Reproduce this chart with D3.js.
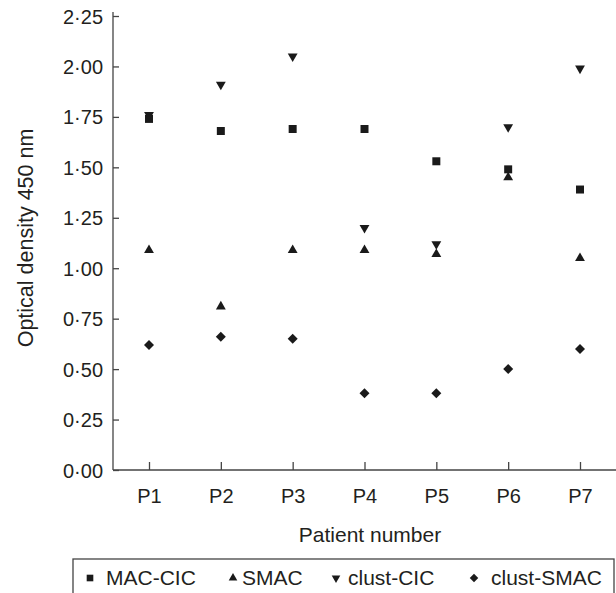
<!DOCTYPE html>
<html>
<head>
<meta charset="utf-8">
<script src="https://cdn.jsdelivr.net/npm/d3@7"></script>
<style>
  body { margin: 0; background: #fff; }
  text { font-family: "Liberation Sans", Arial, sans-serif; fill: #231f20; }
</style>
</head>
<body>
<svg id="chart" width="616" height="593"></svg>
<script>
const patients = ["P1", "P2", "P3", "P4", "P5", "P6", "P7"]
const macCic = [1.74, 1.68, 1.69, 1.69, 1.53, 1.49, 1.39]
const smac = [1.09, 0.81, 1.09, 1.09, 1.07, 1.45, 1.05]
const clustCic = [1.76, 1.91, 2.05, 1.20, 1.12, 1.70, 1.99]
const clustSmac = [0.62, 0.66, 0.65, 0.38, 0.38, 0.50, 0.60]
const yTicks = [0, 0.25, 0.5, 0.75, 1, 1.25, 1.5, 1.75, 2, 2.25]

const series = [
  { name: "MAC-CIC", values: macCic, shape: "square" },
  { name: "SMAC", values: smac, shape: "up" },
  { name: "clust-CIC", values: clustCic, shape: "down" },
  { name: "clust-SMAC", values: clustSmac, shape: "diamond" }
]

const svg = d3.select("#chart")
const plotL = 113, plotR = 616, plotT = 16, plotB = 470

const x = d3.scalePoint().domain(patients).range([149, 580])
const y = d3.scaleLinear().domain([0, 2.25]).range([plotB, plotT])

// marker paths, big for the plot and small for the legend
function marker(shape, big) {
  if (shape == "square") return d3.symbol(d3.symbolSquare, big ? 64 : 44)()
  if (shape == "diamond") return d3.symbol(d3.symbolSquare, big ? 50 : 36)()
  return d3.symbol(d3.symbolTriangle, big ? 42 : 32)()
}
function rot(shape) {
  if (shape == "down") return 180
  if (shape == "diamond") return 45
  return 0
}

// axes
const yAxis = svg.append("g").attr("transform", `translate(${plotL},0)`)
  .call(d3.axisRight(y).tickValues(yTicks).tickSize(6).tickFormat(""))
yAxis.select(".domain").attr("d", `M0,${plotT - 4}V${plotB}`)
yAxis.selectAll("line, path").attr("stroke", "#444").attr("stroke-width", 1.3)
yAxis.selectAll(".tick").append("text")
  .attr("x", -10).attr("dy", "0.35em")
  .attr("text-anchor", "end").attr("font-size", 20)
  .text(d => d3.format(".2f")(d).replace(".", "·"))

const xAxis = svg.append("g").attr("transform", `translate(0,${plotB})`)
  .call(d3.axisTop(x).tickSize(8).tickFormat(""))
xAxis.select(".domain").attr("d", `M${plotL},0H${plotR}`)
xAxis.selectAll("line, path").attr("stroke", "#444").attr("stroke-width", 1.3)
xAxis.selectAll(".tick").append("text")
  .attr("y", 33).attr("text-anchor", "middle").attr("font-size", 20)
  .text(d => d)

svg.append("text").attr("x", 370).attr("y", 542)
  .attr("text-anchor", "middle").attr("font-size", 21)
  .text("Patient number")

svg.append("text")
  .attr("transform", "translate(33,238) rotate(-90)")
  .attr("text-anchor", "middle").attr("font-size", 21.5)
  .text("Optical density 450 nm")

// points
series.forEach(s => {
  svg.append("g").selectAll("path").data(s.values).join("path")
    .attr("d", marker(s.shape, true))
    .attr("transform", (v, i) => `translate(${x(patients[i])},${y(v)}) rotate(${rot(s.shape)})`)
    .attr("fill", "#1a1a1a")
})

// legend
svg.append("rect").attr("x", 73).attr("y", 559).attr("width", 541).attr("height", 60)
  .attr("fill", "none").attr("stroke", "#444").attr("stroke-width", 1.3)
const legendX = [90, 233, 336, 474]
const textX = [106, 242, 348, 491]
series.forEach((s, i) => {
  svg.append("path").attr("d", marker(s.shape, false))
    .attr("transform", `translate(${legendX[i]},${578}) rotate(${rot(s.shape)})`)
    .attr("fill", "#1a1a1a")
  svg.append("text").attr("x", textX[i]).attr("y", 585)
    .attr("font-size", 21).text(s.name)
})
</script>
</body>
</html>
